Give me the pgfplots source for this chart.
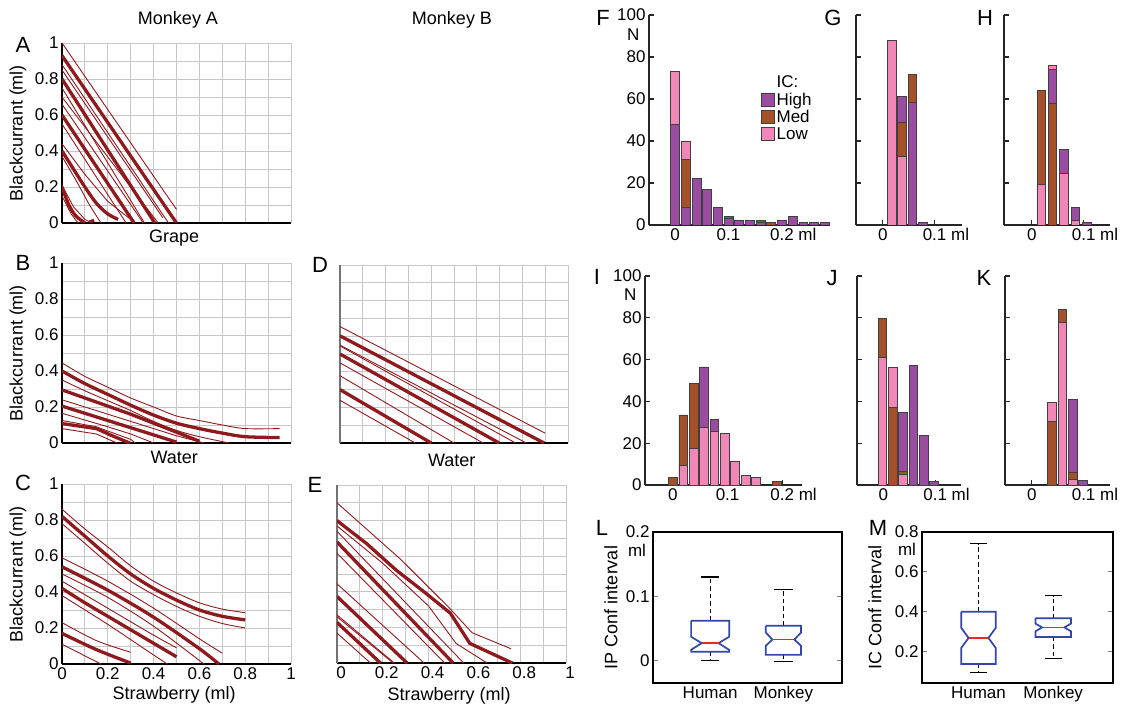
\documentclass[border=0pt]{standalone}
\usepackage{fontspec}
\setmainfont{Liberation Sans}
\usepackage{pgfplots}
\pgfplotsset{compat=1.18}

\definecolor{Curve}{HTML}{8E1A1E}
\definecolor{High}{HTML}{9A4CA0}
\definecolor{Med}{HTML}{A4512A}
\definecolor{Low}{HTML}{F087B7}
\definecolor{BoxBlue}{HTML}{3346A6}
\definecolor{MedRed}{HTML}{E8282A}

\pgfplotsset{
  /pgf/number format/assume math mode=true,
  every axis/.append style={font=\fontsize{17}{19}\selectfont},
  every axis label/.append style={font=\fontsize{18}{20}\selectfont},
  pref/.style={
    scale only axis, width=229pt, height=180pt,
    xmin=0, xmax=1, ymin=0, ymax=1,
    xtick={0,0.2,0.4,0.6,0.8,1}, ytick={0,0.2,0.4,0.6,0.8,1},
    minor xtick={0.1,0.3,0.5,0.7,0.9}, minor ytick={0.1,0.3,0.5,0.7,0.9},
    grid=both,
    major grid style={black!22, line width=0.9pt},
    minor grid style={black!22, line width=0.9pt},
    axis x line*=bottom, axis y line*=left,
    axis line style={line width=1.3pt, -},
    major tick length=0pt, minor tick length=0pt,
    ylabel style={at={(axis description cs:-0.192,0.5)}, anchor=center},
    no markers,
  },
  xlab/.style={xlabel style={at={(axis description cs:0.49,#1)}, anchor=center}},
  thk/.style={Curve, line width=3.3pt, line join=round},
  thn/.style={Curve, line width=0.9pt},
  hist/.style={
    scale only axis, height=210pt, ymin=0, ymax=100, ytick={0,20,40,60,80,100},
    axis x line*=bottom, axis y line*=left,
    axis line style={line width=1.3pt, -, black!85},
    tick align=inside, major tick length=5pt, tick style={line width=1.1pt, black!85},
  },
  hb/.style={ybar, bar shift=0pt, bar width=0.0165, draw=black!75, line width=0.8pt, forget plot},
  boxp/.style={
    scale only axis, height=151pt,
    xtick={1,2}, xticklabels={Human,Monkey},
    tick align=inside, major tick length=5pt,
    xtick style={draw=none}, ytick style={line width=1.1pt},
    axis line style={line width=1.3pt},
    ylabel style={anchor=center},
  },
  bx/.style={BoxBlue, line width=1.7pt, no markers},
  md/.style={MedRed, line width=1.7pt, no markers},
  wk/.style={black, line width=1.2pt, dash pattern=on 4.5pt off 3pt, no markers},
  cp/.style={black, line width=1.2pt, no markers},
}

\begin{document}
\begin{tikzpicture}[font=\fontsize{18}{20}\selectfont]
\useasboundingbox (0,0) rectangle (1125pt,-711pt);

\node at (178pt,-20pt) {Monkey A};
\node at (452pt,-20pt) {Monkey B};
\begin{scope}[every node/.style={font=\fontsize{22}{24}\selectfont}]
\node at (23pt,-45pt) {A};
\node at (23pt,-263pt) {B};
\node at (23pt,-483pt) {C};
\node at (320pt,-265pt) {D};
\node at (315pt,-485pt) {E};
\node at (603pt,-18pt) {F};
\node at (833pt,-18pt) {G};
\node at (985pt,-18pt) {H};
\node at (597pt,-277pt) {I};
\node at (832pt,-278pt) {J};
\node at (984pt,-278pt) {K};
\node at (602pt,-528pt) {L};
\node at (878pt,-528pt) {M};
\end{scope}
\node[font=\fontsize{17}{19}\selectfont] at (637pt,-550pt) {ml};
\node[font=\fontsize{17}{19}\selectfont] at (907pt,-549pt) {ml};

% ---------- A : grape ----------
\begin{axis}[pref, at={(62pt,-223pt)}, anchor=south west,
  xticklabels={}, xlabel={Grape}, xlab=-0.083, ylabel={Blackcurrant (ml)}]
\addplot[thn] coordinates {(0,1.0) (0.50,0.075)};
\addplot[thn] coordinates {(0,0.88) (0.465,0)};
\addplot[thn] coordinates {(0,0.85) (0.44,0.03)};
\addplot[thn] coordinates {(0,0.75) (0.36,0)};
\addplot[thn] coordinates {(0,0.70) (0.42,0)};
\addplot[thn] coordinates {(0,0.66) (0.355,0)};
\addplot[thn] coordinates {(0,0.55) (0.28,0)};
\addplot[thn] coordinates {(0,0.44) (0.10,0.27) (0.20,0.12) (0.30,0.02)};
\addplot[thn] coordinates {(0,0.37) (0.06,0.24) (0.12,0.10) (0.17,0)};
\addplot[thn] coordinates {(0,0.21) (0.05,0.09) (0.10,0.02) (0.13,0)};
\addplot[thn] coordinates {(0,0.15) (0.04,0.05) (0.07,0)};
\addplot[thk] coordinates {(0,0.93) (0.50,0)};
\addplot[thk] coordinates {(0,0.80) (0.405,0)};
\addplot[thk] coordinates {(0,0.60) (0.315,0)};
\addplot[thk, smooth] coordinates {(0,0.40) (0.05,0.30) (0.10,0.20) (0.15,0.11) (0.20,0.05) (0.245,0.02)};
\addplot[thk, smooth] coordinates {(0,0.20) (0.03,0.10) (0.06,0.04) (0.10,0)};
\addplot[thk] coordinates {(0.12,0.005) (0.14,0.015)};
\end{axis}

% ---------- B : water ----------
\begin{axis}[pref, at={(62pt,-443pt)}, anchor=south west,
  xticklabels={}, xlabel={Water}, xlab=-0.078, ylabel={Blackcurrant (ml)}]
\addplot[thn, smooth] coordinates {(0,0.445) (0.1,0.37) (0.2,0.31) (0.3,0.25) (0.4,0.20) (0.5,0.15) (0.6,0.125) (0.7,0.10) (0.8,0.08) (0.95,0.08)};
\addplot[thn, smooth] coordinates {(0,0.35) (0.1,0.29) (0.2,0.235) (0.3,0.18) (0.4,0.12) (0.5,0.07) (0.6,0.035) (0.73,0)};
\addplot[thn] coordinates {(0,0.24) (0.2,0.16) (0.4,0.08) (0.5,0.04) (0.62,0)};
\addplot[thn] coordinates {(0,0.165) (0.2,0.09) (0.3,0.05) (0.4,0)};
\addplot[thn] coordinates {(0,0.125) (0.15,0.09) (0.3,0.02) (0.32,0)};
\addplot[thn] coordinates {(0,0.08) (0.15,0.05) (0.24,0)};
\addplot[thk, smooth] coordinates {(0,0.40) (0.1,0.33) (0.2,0.27) (0.3,0.21) (0.4,0.155) (0.5,0.11) (0.6,0.08) (0.7,0.055) (0.8,0.035) (0.95,0.03)};
\addplot[thk] coordinates {(0,0.295) (0.1,0.25) (0.2,0.205) (0.3,0.16) (0.4,0.11) (0.5,0.06) (0.6,0.01)};
\addplot[thk] coordinates {(0,0.205) (0.1,0.165) (0.2,0.125) (0.3,0.085) (0.4,0.045) (0.5,0.005)};
\addplot[thk] coordinates {(0,0.108) (0.15,0.08) (0.22,0.04) (0.295,0)};
\end{axis}

% ---------- C : strawberry ----------
\begin{axis}[pref, at={(62pt,-664pt)}, anchor=south west,
  xlabel={Strawberry (ml)}, xlab=-0.172, ylabel={Blackcurrant (ml)}]
\addplot[thn, smooth] coordinates {(0,0.86) (0.1,0.75) (0.2,0.65) (0.3,0.545) (0.4,0.46) (0.5,0.395) (0.6,0.34) (0.7,0.305) (0.8,0.285)};
\addplot[thn, smooth] coordinates {(0,0.78) (0.1,0.67) (0.2,0.56) (0.3,0.46) (0.4,0.385) (0.5,0.32) (0.6,0.265) (0.7,0.225) (0.8,0.20)};
\addplot[thn, smooth] coordinates {(0,0.59) (0.2,0.46) (0.4,0.31) (0.6,0.14) (0.7,0.06)};
\addplot[thn, smooth] coordinates {(0,0.50) (0.2,0.37) (0.4,0.21) (0.62,0)};
\addplot[thn, smooth] coordinates {(0,0.46) (0.2,0.31) (0.4,0.16) (0.5,0.09)};
\addplot[thn, smooth] coordinates {(0,0.38) (0.2,0.22) (0.4,0.05) (0.46,0)};
\addplot[thn, smooth] coordinates {(0,0.23) (0.15,0.13) (0.3,0.065)};
\addplot[thn] coordinates {(0,0.11) (0.17,0)};
\addplot[thk, smooth] coordinates {(0,0.82) (0.1,0.71) (0.2,0.60) (0.3,0.50) (0.4,0.42) (0.5,0.355) (0.6,0.30) (0.7,0.265) (0.8,0.245)};
\addplot[thk, smooth] coordinates {(0,0.54) (0.2,0.41) (0.4,0.26) (0.6,0.085) (0.685,0)};
\addplot[thk, smooth] coordinates {(0,0.42) (0.1,0.34) (0.2,0.265) (0.3,0.19) (0.4,0.115) (0.5,0.04)};
\addplot[thk, smooth] coordinates {(0,0.17) (0.15,0.08) (0.3,0.005)};
\end{axis}

% ---------- D : water, monkey B ----------
\begin{axis}[pref, width=228pt, height=178pt, at={(340pt,-443pt)}, anchor=south west,
  xticklabels={}, yticklabels={}, xlabel={Water}, xlab=-0.096,
  y axis line style={black!55}]
\addplot[thn] coordinates {(0,0.654) (0.90,0.055)};
\addplot[thn] coordinates {(0,0.55) (0.817,0)};
\addplot[thn] coordinates {(0,0.545) (0.77,0)};
\addplot[thn] coordinates {(0,0.45) (0.628,0)};
\addplot[thn] coordinates {(0,0.378) (0.50,0)};
\addplot[thn] coordinates {(0,0.24) (0.33,0)};
\addplot[thk] coordinates {(0,0.602) (0.895,0)};
\addplot[thk] coordinates {(0,0.50) (0.698,0)};
\addplot[thk] coordinates {(0,0.30) (0.40,0)};
\end{axis}

% ---------- E : strawberry, monkey B ----------
\begin{axis}[pref, width=229pt, height=178pt, at={(337pt,-663pt)}, anchor=south west,
  yticklabels={}, xlabel={Strawberry (ml)}, xlab=-0.185,
  xticklabel style={xshift=4pt}, y axis line style={black!55}]
\addplot[thn] coordinates {(0,0.90) (0.14,0.74) (0.28,0.58) (0.49,0.31) (0.59,0.17) (0.76,0.08)};
\addplot[thn] coordinates {(0,0.77) (0.2,0.56) (0.4,0.32) (0.52,0.11) (0.655,0)};
\addplot[thn] coordinates {(0,0.74) (0.553,0)};
\addplot[thn] coordinates {(0,0.617) (0.47,0)};
\addplot[thn] coordinates {(0,0.445) (0.38,0)};
\addplot[thn] coordinates {(0,0.27) (0.25,0)};
\addplot[thn] coordinates {(0,0.26) (0.245,0)};
\addplot[thn] coordinates {(0,0.168) (0.146,0)};
\addplot[thk] coordinates {(0,0.80) (0.13,0.67) (0.26,0.52) (0.38,0.40) (0.495,0.28) (0.58,0.11) (0.765,0)};
\addplot[thk] coordinates {(0,0.68) (0.507,0)};
\addplot[thk] coordinates {(0,0.374) (0.306,0)};
\addplot[thk] coordinates {(0,0.228) (0.19,0)};
\end{axis}

% ---------- F ----------
\begin{axis}[hist, width=181pt, at={(649pt,-225pt)}, anchor=south west,
  xmin=-0.049, xmax=0.29, xtick={0,0.1,0.2}, xticklabels={0,0.1,0.2\rlap{ ml}},
  ylabel={N}, ylabel style={rotate=-90, at={(axis description cs:-0.033,0.905)}, anchor=east, font=\fontsize{17}{19}\selectfont},
  legend style={draw=none, fill=none, at={(axis description cs:0.6,0.73)}, anchor=north west,
    font=\fontsize{17}{18}\selectfont, row sep=-0.5pt},
  legend cell align=left,
  legend image code/.code={\draw[#1, draw=black!75, line width=0.8pt] (0pt,-6.5pt) rectangle (13pt,6.5pt);}]
\addlegendimage{empty legend}\addlegendentry{IC:}
\addlegendimage{fill=High}\addlegendentry{High}
\addlegendimage{fill=Med}\addlegendentry{Med}
\addlegendimage{fill=Low}\addlegendentry{Low}
\addplot[hb, fill=Low]  coordinates {(0,73) (0.02,40)};
\addplot[hb, fill=Med]  coordinates {(0.10,4) (0.16,2) (0.18,1)};
\addplot[hb, fill=High] coordinates {(0.04,22) (0.06,17) (0.08,8.5) (0.12,2) (0.14,2) (0.20,2) (0.22,4) (0.24,1) (0.26,1) (0.28,1)};
\addplot[hb, fill=High] coordinates {(0,48) (0.10,3) (0.16,1.2)};
\addplot[hb, fill=Med]  coordinates {(0.02,31)};
\addplot[hb, fill=High] coordinates {(0.02,8.3)};
\end{axis}

% ---------- G ----------
\begin{axis}[hist, width=106pt, at={(856pt,-225pt)}, anchor=south west,
  xmin=-0.052, xmax=0.153, xtick={0,0.1}, xticklabels={0,0.1\rlap{ ml}}, yticklabels={}]
\addplot[hb, fill=Low]  coordinates {(0.017,88)};
\addplot[hb, fill=High] coordinates {(0.037,61) (0.077,1)};
\addplot[hb, fill=Med]  coordinates {(0.057,71.5)};
\addplot[hb, fill=Med]  coordinates {(0.037,49)};
\addplot[hb, fill=High] coordinates {(0.057,58.5)};
\addplot[hb, fill=Low]  coordinates {(0.037,32.5)};
\end{axis}

% ---------- H ----------
\begin{axis}[hist, width=106pt, at={(1004pt,-225pt)}, anchor=south west,
  xmin=-0.054, xmax=0.151, xtick={0,0.1}, xticklabels={0,0.1\rlap{ ml}}, yticklabels={}]
\addplot[hb, fill=Med]  coordinates {(0.018,64)};
\addplot[hb, fill=Low]  coordinates {(0.040,76)};
\addplot[hb, fill=High] coordinates {(0.062,36) (0.084,8.5) (0.106,1)};
\addplot[hb, fill=Low]  coordinates {(0.018,19.5) (0.062,24.5) (0.084,2)};
\addplot[hb, fill=High] coordinates {(0.040,74)};
\addplot[hb, fill=Med]  coordinates {(0.040,58)};
\end{axis}

% ---------- I ----------
\begin{axis}[hist, width=157pt, height=209pt, at={(645pt,-485pt)}, anchor=south west,
  xmin=-0.051, xmax=0.236, xtick={0,0.1,0.2}, xticklabels={0,0.1,0.2\rlap{ ml}},
  ylabel={N}, ylabel style={rotate=-90, at={(axis description cs:-0.032,0.909)}, anchor=east, font=\fontsize{17}{19}\selectfont}]
\addplot[hb, bar width=0.016, fill=Med]  coordinates {(0,3.5) (0.019,33.5) (0.038,48.5) (0.19,1.5)};
\addplot[hb, bar width=0.016, fill=High] coordinates {(0.057,56.5) (0.076,31.5)};
\addplot[hb, bar width=0.016, fill=Low]  coordinates {(0.095,24.5) (0.114,11.5) (0.133,4.5) (0.152,3.5)};
\addplot[hb, bar width=0.016, fill=Low]  coordinates {(0.019,9.5) (0.038,17.5) (0.057,27.5) (0.076,25.5)};
\end{axis}

% ---------- J ----------
\begin{axis}[hist, width=104pt, height=209pt, at={(857pt,-485pt)}, anchor=south west,
  xmin=-0.051, xmax=0.150, xtick={0,0.1}, xticklabels={0,0.1\rlap{ ml}}, yticklabels={}]
\addplot[hb, fill=Med]  coordinates {(-0.002,79.5)};
\addplot[hb, fill=Low]  coordinates {(0.018,56.5)};
\addplot[hb, fill=High] coordinates {(0.038,34.5) (0.058,57) (0.078,23.5) (0.098,1.5)};
\addplot[hb, fill=Low]  coordinates {(-0.002,61)};
\addplot[hb, fill=Med]  coordinates {(0.018,37) (0.038,6.5)};
\addplot[hb, fill=Low]  coordinates {(0.038,5)};
\end{axis}

% ---------- K ----------
\begin{axis}[hist, width=105pt, height=209pt, at={(1005pt,-485pt)}, anchor=south west,
  xmin=-0.052, xmax=0.151, xtick={0,0.1}, xticklabels={0,0.1\rlap{ ml}}, yticklabels={}]
\addplot[hb, fill=Low]  coordinates {(0.039,39.5)};
\addplot[hb, fill=Med]  coordinates {(0.059,84)};
\addplot[hb, fill=High] coordinates {(0.079,41) (0.099,2)};
\addplot[hb, fill=Med]  coordinates {(0.039,30.5) (0.079,6)};
\addplot[hb, fill=Low]  coordinates {(0.059,78)};
\addplot[hb, fill=Low]  coordinates {(0.079,2.5)};
\end{axis}

% ---------- L ----------
\begin{axis}[boxp, width=189pt, at={(653pt,-683pt)}, anchor=south west,
  xmin=0.22, xmax=2.8, ymin=-0.035, ymax=0.2, ytick={0,0.1,0.2},
  ylabel={IP Conf interval}, ylabel style={at={(axis description cs:-0.222,0.5)}}]
\addplot[wk] coordinates {(1,0.062) (1,0.13)};
\addplot[wk] coordinates {(1,0.0135) (1,0)};
\addplot[cp] coordinates {(0.88,0.13) (1.12,0.13)};
\addplot[cp] coordinates {(0.88,0) (1.12,0)};
\addplot[bx] coordinates {(0.74,0.062) (1.26,0.062) (1.26,0.037) (1.115,0.027) (1.26,0.0166) (1.26,0.0135) (0.74,0.0135) (0.74,0.0166) (0.885,0.027) (0.74,0.037) (0.74,0.062)};
\addplot[md] coordinates {(0.885,0.027) (1.115,0.027)};
\addplot[wk] coordinates {(2,0.054) (2,0.111)};
\addplot[wk] coordinates {(2,0.0088) (2,-0.0016)};
\addplot[cp] coordinates {(1.87,0.111) (2.13,0.111)};
\addplot[cp] coordinates {(1.87,-0.0016) (2.13,-0.0016)};
\addplot[bx] coordinates {(1.76,0.054) (2.24,0.054) (2.24,0.0435) (2.15,0.0326) (2.24,0.023) (2.24,0.0088) (1.76,0.0088) (1.76,0.023) (1.85,0.0326) (1.76,0.0435) (1.76,0.054)};
\addplot[md] coordinates {(1.85,0.0326) (2.15,0.0326)};
\end{axis}

% ---------- M ----------
\begin{axis}[boxp, width=191pt, at={(922pt,-683pt)}, anchor=south west,
  xmin=0.244, xmax=2.8, ymin=0.04, ymax=0.8, ytick={0.2,0.4,0.6,0.8},
  ylabel={IC Conf interval}, ylabel style={at={(axis description cs:-0.246,0.5)}}]
\addplot[wk] coordinates {(1,0.399) (1,0.741)};
\addplot[wk] coordinates {(1,0.136) (1,0.091)};
\addplot[cp] coordinates {(0.89,0.741) (1.11,0.741)};
\addplot[cp] coordinates {(0.89,0.091) (1.11,0.091)};
\addplot[bx] coordinates {(0.77,0.399) (1.23,0.399) (1.23,0.317) (1.133,0.267) (1.23,0.217) (1.23,0.136) (0.77,0.136) (0.77,0.217) (0.867,0.267) (0.77,0.317) (0.77,0.399)};
\addplot[md] coordinates {(0.867,0.267) (1.133,0.267)};
\addplot[wk] coordinates {(2,0.366) (2,0.48)};
\addplot[wk] coordinates {(2,0.272) (2,0.165)};
\addplot[cp] coordinates {(1.885,0.48) (2.115,0.48)};
\addplot[cp] coordinates {(1.885,0.165) (2.115,0.165)};
\addplot[bx] coordinates {(1.762,0.366) (2.238,0.366) (2.238,0.339) (2.149,0.32) (2.238,0.30) (2.238,0.272) (1.762,0.272) (1.762,0.30) (1.851,0.32) (1.762,0.339) (1.762,0.366)};
\addplot[md] coordinates {(1.851,0.32) (2.149,0.32)};
\end{axis}
\end{tikzpicture}
\end{document}
